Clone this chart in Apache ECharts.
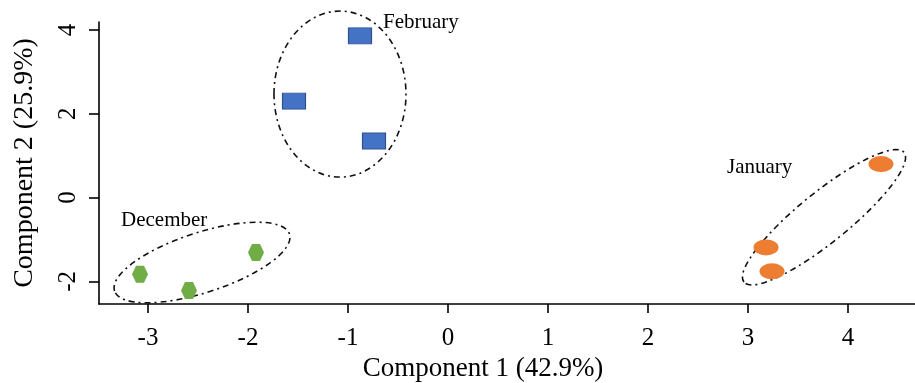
<!DOCTYPE html>
<html>
<head>
<meta charset="utf-8">
<script src="https://cdn.jsdelivr.net/npm/echarts@6/dist/echarts.min.js"></script>
<style>html,body{margin:0;padding:0;background:#fff}#chart{width:915px;height:383px}</style>
</head>
<body>
<div id="chart"></div>
<script>
// ---- data ----
const febX = [-0.88, -1.54, -0.74];
const febY = [3.86, 2.30, 1.35];
const janX = [4.33, 3.18, 3.24];
const janY = [0.80, -1.19, -1.76];
const decX = [-3.08, -2.59, -1.92];
const decY = [-1.83, -2.22, -1.31];
const xTicks = [-3, -2, -1, 0, 1, 2, 3, 4];
const yTicks = [-2, 0, 2, 4];
const groupNames = ['February', 'January', 'December'];
// group ellipse centres (data units)
const ellipseCx = [-1.08, 3.76, -2.46];
const ellipseCy = [2.47, -0.47, -1.55];
// group label anchors (data units)
const labelX = [-0.65, 2.79, -3.27];
const labelY = [4.19, 0.72, -0.55];

// ---- styling / geometry (pixels) ----
const ellipseGeom = [
  {rx: 66, ry: 83, rot: 0},
  {rx: 103, ry: 25, rot: 39},
  {rx: 92, ry: 30, rot: 18}
];
const FONT = 'Liberation Serif';
const zip = (a, b) => a.map((v, i) => [v, b[i]]);

const chart = echarts.init(document.getElementById('chart'));
chart.setOption({
  animation: false,
  grid: {left: 99, right: 0, top: 22, bottom: 79, outerBoundsMode: 'none', containLabel: false},
  xAxis: {
    type: 'value', min: -3.49, max: 4.67,
    splitLine: {show: false},
    axisLine: {onZero: false, lineStyle: {color: '#000', width: 1.6}},
    axisTick: {show: true, length: 9, customValues: xTicks, lineStyle: {color: '#000', width: 1.6}},
    axisLabel: {customValues: xTicks, fontFamily: FONT, fontSize: 25, color: '#000', margin: 22},
    name: 'Component 1 (42.9%)', nameLocation: 'middle', nameGap: 47,
    nameTextStyle: {fontFamily: FONT, fontSize: 27, color: '#000', padding: [0, 48, 0, 0]}
  },
  yAxis: {
    type: 'value', min: -2.54, max: 4.19,
    splitLine: {show: false},
    axisLine: {onZero: false, lineStyle: {color: '#000', width: 1.6}},
    axisTick: {show: true, length: 10, customValues: yTicks, lineStyle: {color: '#000', width: 1.6}},
    axisLabel: {customValues: yTicks, rotate: 90, fontFamily: FONT, fontSize: 25, color: '#000', margin: 18},
    name: 'Component 2 (25.9%)', nameLocation: 'middle', nameGap: 60, nameRotate: 90,
    nameTextStyle: {fontFamily: FONT, fontSize: 28, color: '#000'}
  },
  series: [
    {
      type: 'custom', clip: false, silent: true,
      data: zip(ellipseCx, ellipseCy),
      renderItem: function (params, api) {
        const p = api.coord([api.value(0), api.value(1)]);
        const g = ellipseGeom[params.dataIndex];
        return {
          type: 'ellipse', x: p[0], y: p[1], rotation: g.rot * Math.PI / 180,
          shape: {cx: 0, cy: 0, rx: g.rx, ry: g.ry},
          style: {fill: null, stroke: '#111', lineWidth: 1.6, lineDash: [6, 4, 2, 4]}
        };
      }
    },
    {
      type: 'scatter', name: 'February', data: zip(febX, febY),
      symbol: 'rect', symbolSize: [23, 16],
      itemStyle: {color: '#4472C4', borderColor: '#2F528F', borderWidth: 1, opacity: 1}
    },
    {
      type: 'scatter', name: 'January', data: zip(janX, janY),
      symbol: 'path://M0,1 A1,1 0 1,1 2,1 A1,1 0 1,1 0,1 Z', symbolSize: [25, 16],
      itemStyle: {color: '#ED7D31', opacity: 1}
    },
    {
      type: 'scatter', name: 'December', data: zip(decX, decY),
      symbol: 'path://M0,5 L2.5,0 L7.5,0 L10,5 L7.5,10 L2.5,10 Z', symbolSize: [16, 17],
      itemStyle: {color: '#70AD47', opacity: 1}
    },
    {
      type: 'custom', clip: false, silent: true,
      data: labelX.map((x, i) => [x, labelY[i], groupNames[i]]),
      renderItem: function (params, api) {
        const p = api.coord([api.value(0), api.value(1)]);
        return {
          type: 'text', x: p[0], y: p[1],
          style: {text: groupNames[params.dataIndex], align: 'left', verticalAlign: 'middle',
                  fontFamily: FONT, fontSize: 21, fill: '#000'}
        };
      }
    }
  ]
});
</script>
</body>
</html>
